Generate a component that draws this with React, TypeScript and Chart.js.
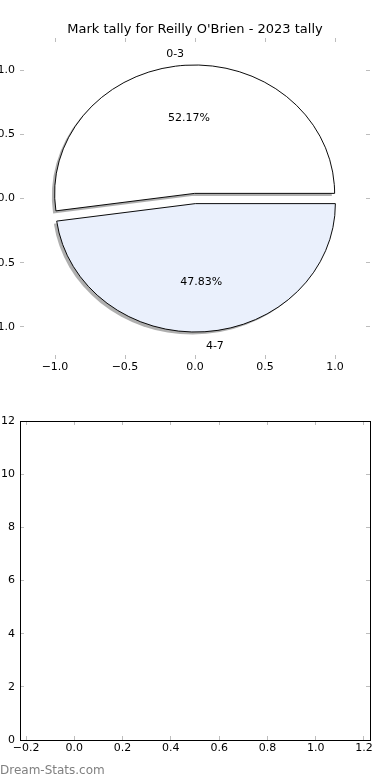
import React, { useEffect, useRef } from 'react';
import { Chart, registerables } from 'chart.js';

Chart.register(...registerables);

// ---- data ----
const categories = ['0-3', '4-7'];
const counts = [12, 11];
const explode = [0.04, 0.04];
const pieColors = ['#ffffff', '#eaf0fc'];
const pieAxisTicks = [-1, -0.5, 0, 0.5, 1];
const emptyXTicks = [-0.2, 0, 0.2, 0.4, 0.6, 0.8, 1.0, 1.2];
const emptyYTicks = [0, 2, 4, 6, 8, 10, 12];
const chartTitle = "Mark tally for Reilly O'Brien - 2023 tally";
const watermark = 'Dream-Stats.com';

const FONT = "'DejaVu Sans', 'Liberation Sans', sans-serif";
const TICK_COLOR = '#bdbdbd';
const SHADOW_OFFSET = [-0.02, -0.02];
const SHADOW_COLOR = 'rgba(77,77,77,0.45)';

const fmt1 = (v: number) => {
  const s = Math.abs(v) < 1e-9 ? '0.0' : Number(v).toFixed(1);
  return s.replace('-', '\u2212');
};
const fmt0 = (v: number) => String(Math.round(v)).replace('-', '\u2212');

function axis(
  position: string,
  ticks: number[],
  min: number,
  max: number,
  showLabels: boolean,
  size: number,
  fmt: (v: number) => string,
  border: boolean
) {
  return {
    type: 'linear',
    position,
    min,
    max,
    afterBuildTicks: (s: any) => {
      s.ticks = ticks.map((v) => ({ value: v }));
    },
    afterFit: (s: any) => {
      if (s.isHorizontal()) s.height = size;
      else s.width = size;
    },
    grid: {
      display: true,
      drawOnChartArea: false,
      drawTicks: true,
      tickLength: -4,
      tickColor: TICK_COLOR,
      tickWidth: 1,
    },
    border: { display: border, color: '#000', width: 1 },
    ticks: {
      display: showLabels,
      padding: position === 'left' || position === 'right' ? 9 : 5.4,
      color: '#000',
      font: { family: FONT, size: 11 },
      autoSkip: false,
      maxRotation: 0,
      callback: (v: any) => fmt(Number(v)),
    },
  };
}

const piePlugin = {
  id: 'mplPie',
  beforeDatasetsDraw(chart: any) {
    const meta = chart.getDatasetMeta(0);
    const xs = chart.scales.x;
    const ys = chart.scales.y;
    const rx = xs.getPixelForValue(1) - xs.getPixelForValue(0);
    const ry = ys.getPixelForValue(0) - ys.getPixelForValue(1);
    const ctx = chart.ctx;
    const arcs = meta.data;
    // shadows first (below every wedge)
    arcs.forEach((arc: any, i: number) => {
      const { x, y, startAngle, endAngle, outerRadius: R } = arc;
      const mid = (startAngle + endAngle) / 2;
      ctx.save();
      ctx.translate(x, y);
      ctx.scale(rx / R, ry / R);
      ctx.translate(
        (Math.cos(mid) * explode[i] + SHADOW_OFFSET[0]) * R,
        (Math.sin(mid) * explode[i] - SHADOW_OFFSET[1]) * R
      );
      ctx.beginPath();
      ctx.moveTo(0, 0);
      ctx.arc(0, 0, R, startAngle, endAngle);
      ctx.closePath();
      ctx.fillStyle = SHADOW_COLOR;
      ctx.fill();
      ctx.restore();
    });
    arcs.forEach((arc: any, i: number) => {
      const { x, y, startAngle, endAngle, outerRadius: R } = arc;
      const mid = (startAngle + endAngle) / 2;
      ctx.save();
      ctx.translate(x, y);
      ctx.scale(rx / R, ry / R);
      ctx.translate(Math.cos(mid) * explode[i] * R, Math.sin(mid) * explode[i] * R);
      ctx.translate(-x, -y);
      arc.draw(ctx);
      ctx.restore();
    });
    return false;
  },
  afterDraw(chart: any) {
    const meta = chart.getDatasetMeta(0);
    const xs = chart.scales.x;
    const ys = chart.scales.y;
    const rx = xs.getPixelForValue(1) - xs.getPixelForValue(0);
    const ry = ys.getPixelForValue(0) - ys.getPixelForValue(1);
    const ctx = chart.ctx;
    const total = counts.reduce((a, b) => a + b, 0);
    const baselineShift = 2;
    ctx.save();
    ctx.fillStyle = '#000';
    ctx.font = `11px ${FONT}`;
    ctx.textBaseline = 'middle';
    meta.data.forEach((arc: any, i: number) => {
      const { x, y, startAngle, endAngle } = arc;
      const mid = (startAngle + endAngle) / 2;
      const c = Math.cos(mid);
      const s = Math.sin(mid);
      const lx = x + c * (explode[i] + 1.1) * rx;
      const ly = y + s * (explode[i] + 1.1) * ry + baselineShift;
      ctx.textAlign = c < 0 ? 'right' : 'left';
      ctx.fillText(categories[i], lx, ly);
      const px = x + c * (explode[i] + 0.6) * rx;
      const py = y + s * (explode[i] + 0.6) * ry + baselineShift;
      ctx.textAlign = 'center';
      ctx.fillText(((counts[i] / total) * 100).toFixed(2) + '%', px, py);
    });
    ctx.restore();
  },
};

export default function App() {
  const topRef = useRef<HTMLCanvasElement>(null);
  const botRef = useRef<HTMLCanvasElement>(null);

  useEffect(() => {
    const total = counts.reduce((a, b) => a + b, 0);
    const rotation = 90 - (360 * counts[0]) / total;
    const top = new Chart(topRef.current as HTMLCanvasElement, {
      type: 'pie',
      data: {
        labels: categories,
        datasets: [
          {
            data: counts,
            backgroundColor: pieColors,
            borderColor: '#000',
            borderWidth: 1,
            borderJoinStyle: 'miter',
            rotation,
            radius: (ctx: any) => {
              const s = ctx.chart.scales.x;
              return s ? s.getPixelForValue(1) - s.getPixelForValue(0) : '90%';
            },
          } as any,
        ],
      },
      options: {
        animation: false,
        responsive: false,
        maintainAspectRatio: false,
        events: [],
        layout: { padding: 0 },
        plugins: {
          legend: { display: false },
          tooltip: { enabled: false },
          title: {
            display: true,
            text: chartTitle,
            color: '#000',
            font: { family: FONT, size: 13, weight: 'normal' },
            padding: { top: 22, bottom: 0.4 },
          },
        },
        scales: {
          x: axis('bottom', pieAxisTicks, -1.25, 1.25, true, 31, fmt1, false),
          x2: axis('top', pieAxisTicks, -1.25, 1.25, false, 0, fmt1, false),
          y: axis('left', pieAxisTicks, -1.25, 1.25, true, 20, fmt1, false),
          y2: axis('right', pieAxisTicks, -1.25, 1.25, false, 20, fmt1, false),
        },
      } as any,
      plugins: [piePlugin],
    });

    const bottom = new Chart(botRef.current as HTMLCanvasElement, {
      type: 'scatter',
      data: { datasets: [] },
      options: {
        animation: false,
        responsive: false,
        maintainAspectRatio: false,
        events: [],
        layout: { padding: { top: 31, left: 0, right: 0, bottom: 0 } },
        plugins: { legend: { display: false }, tooltip: { enabled: false } },
        scales: {
          x: axis('bottom', emptyXTicks, -0.225, 1.225, true, 40, fmt1, true),
          x2: axis('top', emptyXTicks, -0.225, 1.225, false, 0, fmt1, true),
          y: axis('left', emptyYTicks, 0, 12, true, 20, fmt0, true),
          y2: axis('right', emptyYTicks, 0, 12, false, 20, fmt0, true),
        },
      } as any,
    });

    return () => {
      top.destroy();
      bottom.destroy();
    };
  }, []);

  return (
    <div
      style={{
        position: 'absolute',
        left: 0,
        top: 0,
        width: 390,
        height: 780,
        background: '#fff',
        overflow: 'hidden',
      }}
    >
      <canvas
        ref={topRef}
        width={390}
        height={390}
        style={{ position: 'absolute', left: 0, top: 0, width: 390, height: 390, display: 'block' }}
      />
      <canvas
        ref={botRef}
        width={390}
        height={390}
        style={{ position: 'absolute', left: 0, top: 390, width: 390, height: 390, display: 'block' }}
      />
      <div
        style={{
          position: 'absolute',
          left: 0,
          top: 762,
          fontFamily: FONT,
          fontSize: 12,
          lineHeight: '16px',
          color: '#808080',
          whiteSpace: 'nowrap',
        }}
      >
        {watermark}
      </div>
    </div>
  );
}
